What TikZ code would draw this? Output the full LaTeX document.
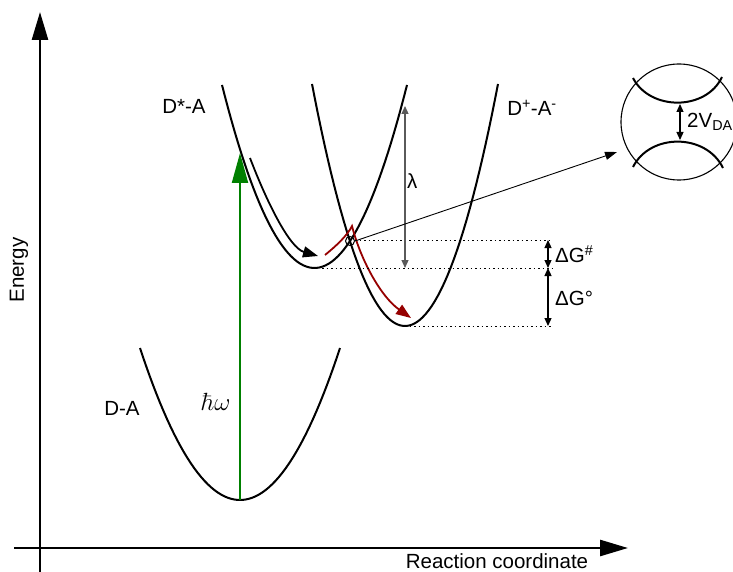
\documentclass[tikz,border=0pt]{standalone}
\usepackage[no-math]{fontspec}
\setmainfont{Liberation Sans}
\usetikzlibrary{arrows.meta}
\definecolor{arrgreen}{RGB}{0,128,0}
\definecolor{arrred}{RGB}{150,0,0}
\definecolor{lamgray}{RGB}{90,90,90}
\begin{document}
\begin{tikzpicture}[x=1pt,y=-1pt,
  curve/.style={line width=2pt},
  axisline/.style={line width=2.6pt,-{Triangle[length=28pt,width=16pt]}},
  lbl/.style={font=\fontsize{20.5}{24}\selectfont,inner sep=0pt},
  dimarrow/.style={line width=1.2pt,{Triangle[length=8pt,width=7pt]}-{Triangle[length=8pt,width=7pt]}},
  dotline/.style={line width=1pt,dash pattern=on 1.5pt off 3pt},
  pathtip/.style={-{Triangle[length=15pt,width=11pt]}}]
\useasboundingbox (0,0) rectangle (733,572);
% axes
\coordinate (ybot) at (40,572);
\coordinate (ytop) at (40,12);
\coordinate (xleft) at (14,548);
\coordinate (xright) at (628,548);
\draw[axisline] (ybot) -- (ytop);
\draw[axisline] (xleft) -- (xright);
\node[lbl,rotate=90] (energy) at (19,270) {Energy};
\node[lbl] (rc) at (497,561) {Reaction coordinate};
% parabolas
\draw[curve] plot[domain=140:340,samples=60] (\x,{500-152*((\x-240)/100)^2});
\draw[curve] plot[domain=222:407,samples=60] (\x,{268-0.02139*(\x-314.5)^2});
\draw[curve] plot[domain=312:498,samples=60] (\x,{326-0.02798*(\x-405)^2});
% labels of states
\node[lbl] (dsa) at (184,106) {D*-A};
\node[lbl] (dpam) at (532,108) {D\textsuperscript{+}-A\textsuperscript{-}};
\node[lbl] (da) at (122,408) {D-A};
% excitation
\coordinate (gbot) at (240,500);
\coordinate (gtop) at (240,153);
\draw[arrgreen,line width=2pt,-{Triangle[length=30pt,width=16pt]}] (gbot) -- (gtop);
\node[inner sep=0pt,font=\fontsize{29}{32}\selectfont] (hw) at (216,402) {$\hbar\omega$};
% relaxation arrows
\coordinate (b1) at (250,158);
\coordinate (b2) at (318,256);
\draw[line width=1.8pt,pathtip] (b1) .. controls (268,205) and (290,248) .. (b2);
\coordinate (r1) at (325,255);
\coordinate (rpk) at (352,226);
\coordinate (r2) at (411,318);
\draw[arrred,line width=1.8pt,pathtip] (r1) .. controls (336,246) and (347,236) .. (rpk) .. controls (360,258) and (380,296) .. (r2);
% crossing point
\node[circle,draw,line width=1pt,minimum size=9pt,inner sep=0pt] (cross) at (350,241) {};
% dotted levels
\coordinate (d1a) at (355,240); \coordinate (d1b) at (553,240);
\coordinate (d2a) at (322,268); \coordinate (d2b) at (553,268);
\coordinate (d3a) at (405,326); \coordinate (d3b) at (553,326);
\draw[dotline] (d1a) -- (d1b);
\draw[dotline] (d2a) -- (d2b);
\draw[dotline] (d3a) -- (d3b);
% lambda
\coordinate (la) at (405,106);
\coordinate (lb) at (405,268);
\draw[dimarrow,lamgray] (la) -- (lb);
\node[lbl,anchor=west] (lam) at (407,181) {λ};
% Delta G
\coordinate (g1) at (548,240);
\coordinate (g2) at (548,268);
\coordinate (g3) at (548,326);
\draw[dimarrow] (g1) -- (g2);
\draw[dimarrow] (g2) -- (g3);
\node[lbl,anchor=west] (dgs) at (555,254) {ΔG\textsuperscript{\#}};
\node[lbl,anchor=west] (dgo) at (555,298) {ΔG°};
% magnifier
\node[circle,draw,line width=1.1pt,minimum size=116pt,inner sep=0pt] (mag) at (679,122) {};
\draw[->,>={Triangle[length=12pt,width=8pt]},line width=0.9pt] (cross.east) -- (617,152);
\draw[curve] (633,78) .. controls (650,111) and (706,111) .. (722,77);
\draw[curve] (633,167) .. controls (650,133) and (706,133) .. (723,168);
\coordinate (va) at (680,104);
\coordinate (vb) at (680,140);
\draw[dimarrow] (va) -- (vb);
\node[lbl,anchor=west] (vda) at (687,122) {2V\textsubscript{DA}};
\end{tikzpicture}
\end{document}
